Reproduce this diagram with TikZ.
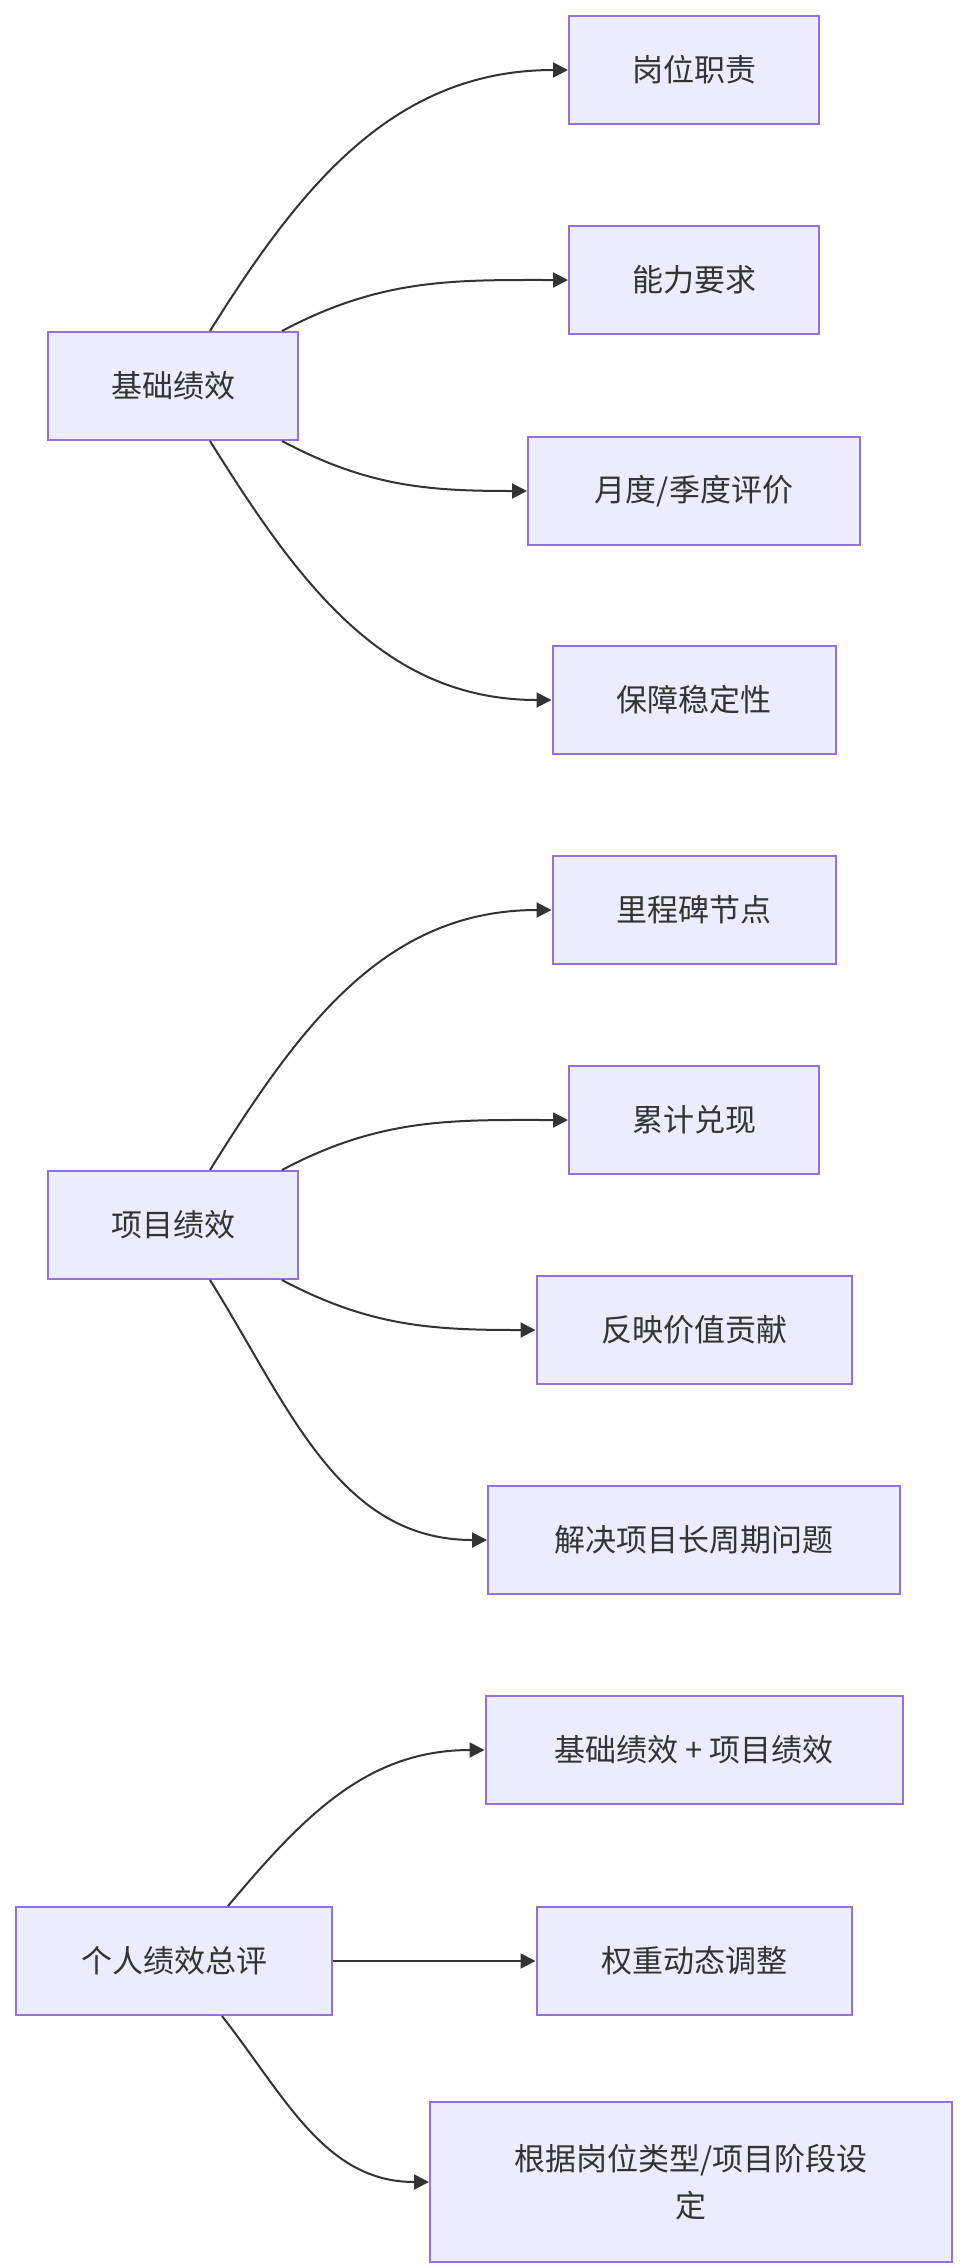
\documentclass[tikz,border=0pt]{standalone}
\usepackage{fontspec}
\setmainfont{Noto Sans CJK SC}
\usetikzlibrary{arrows.meta}
\definecolor{boxfill}{HTML}{ECECFF}
\definecolor{boxline}{HTML}{9370DB}
\definecolor{edge}{HTML}{333333}
\tikzset{
	box/.style={draw=boxline, fill=boxfill, line width=2pt, font=\fontsize{31}{47}\selectfont, text=edge, align=center, inner sep=0pt, minimum height=108},
	link/.style={draw=edge, line width=2pt, -{Triangle[length=15pt,width=15pt]}}
}
\begin{document}
\begin{tikzpicture}[x=1pt, y=-1pt]
	\useasboundingbox (0,0) rectangle (964,2268);
	%Basic performance
		\node[box, minimum width=250] (jc) at (173,386) {基础绩效};
		\node[box, minimum width=250] (gw) at (694,70) {岗位职责};
		\node[box, minimum width=250] (nl) at (694,280) {能力要求};
		\node[box, minimum width=332] (yd) at (694,491) {月度/季度评价};
		\node[box, minimum width=283] (bz) at (694,700) {保障稳定性};
		\draw[link] ([xshift=37pt]jc.north) to[out=58,in=180] (gw.west);
		\draw[link] ([xshift=109pt]jc.north) to[out=28,in=180] (nl.west);
		\draw[link] ([xshift=109pt]jc.south) to[out=-28,in=180] (yd.west);
		\draw[link] ([xshift=37pt]jc.south) to[out=-58,in=180] (bz.west);
	%Project performance
		\node[box, minimum width=250] (xm) at (173,1225) {项目绩效};
		\node[box, minimum width=283] (lc) at (694,910) {里程碑节点};
		\node[box, minimum width=250] (lj) at (694,1120) {累计兑现};
		\node[box, minimum width=315] (fy) at (694,1330) {反映价值贡献};
		\node[box, minimum width=412] (jj) at (694,1540) {解决项目长周期问题};
		\draw[link] ([xshift=37pt]xm.north) to[out=58,in=180] (lc.west);
		\draw[link] ([xshift=109pt]xm.north) to[out=28,in=180] (lj.west);
		\draw[link] ([xshift=109pt]xm.south) to[out=-28,in=180] (fy.west);
		\draw[link] ([xshift=37pt]xm.south) to[out=-58,in=180] (jj.west);
	%Overall score
		\node[box, minimum width=316] (gr) at (174,1961) {个人绩效总评};
		\node[box, minimum width=417] (hz) at (694,1750) {基础绩效 + 项目绩效};
		\node[box, minimum width=315] (qz) at (694,1961) {权重动态调整};
		\node[box, minimum width=522, minimum height=160] (gj) at (691,2182) {根据岗位类型/项目阶段设\\定};
		\draw[link] ([xshift=54pt]gr.north) to[out=50,in=180] (hz.west);
		\draw[link] (gr.east) -- (qz.west);
		\draw[link] ([xshift=48pt]gr.south) to[out=-52,in=180] (gj.west);
\end{tikzpicture}
\end{document}
